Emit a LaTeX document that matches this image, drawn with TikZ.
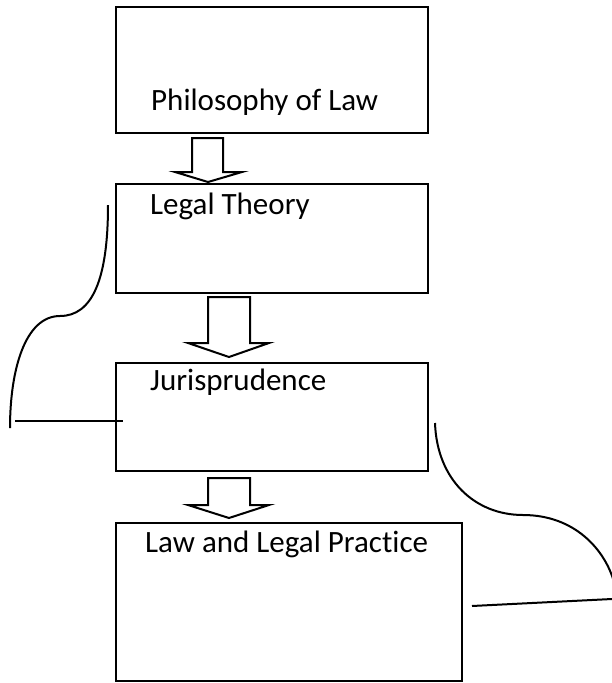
\documentclass[tikz,border=0pt]{standalone}
\usepackage{fontspec}
\setmainfont{Carlito}[Ligatures=NoCommon]
\begin{document}
\begin{tikzpicture}[x=1pt,y=-1pt,
  box/.style={draw=black, line width=2pt, fill=white, rectangle, inner sep=0pt, anchor=north west},
  caption/.style={anchor=base west, inner sep=0pt, font=\fontsize{31}{36}\selectfont, text=black},
  blockarrow/.style={draw=black, line width=2pt, fill=white, line join=miter},
  brace/.style={draw=black, line width=2pt},
  tick/.style={draw=black, line width=2pt}]
  \useasboundingbox (0,0) rectangle (612,683);

  % the four stages
  \node[box, minimum width=312pt, minimum height=126pt] (philo) at (115,6) {};
  \node[box, minimum width=312pt, minimum height=109pt] (theory) at (115,183) {};
  \node[box, minimum width=312pt, minimum height=108pt] (juris) at (115,362) {};
  \node[box, minimum width=346pt, minimum height=158pt] (practice) at (115,522) {};

  \node[caption] (philoT) at (151,110) {Philosophy of Law};
  \node[caption] (theoryT) at (150,214) {Legal Theory};
  \node[caption] (jurisT) at (150,390) {Jurisprudence};
  \node[caption] (practiceT) at (145,552) {Law and Legal Practice};

  % block arrows between the stages
  \draw[blockarrow] (192,138) -- (223,138) -- (223,172) -- (242,172) -- (208,182)
    -- (175,172) -- (192,172) -- cycle;
  \draw[blockarrow] (208,297) -- (250,297) -- (250,343) -- (269,343) -- (229,357)
    -- (188,343) -- (208,343) -- cycle;
  \draw[blockarrow] (208,478) -- (250,478) -- (250,505) -- (269,505) -- (229,518)
    -- (188,505) -- (208,505) -- cycle;

  % left brace spanning the upper stages
  \coordinate (lbTop) at (108,205);
  \coordinate (lbMid) at (60,316);
  \coordinate (lbBot) at (10,428);
  \draw[brace] (lbTop) .. controls (108,280) and (92,316) .. (lbMid)
    .. controls (25,316) and (10,370) .. (lbBot);
  \coordinate (lTickA) at (15,421);
  \draw[tick] (lTickA) -- (juris.west |- lTickA) -- ++(8,0);

  % right brace spanning the lower stages
  \coordinate (rbTop) at (435,423);
  \coordinate (rbMid) at (523,515);
  \coordinate (rbBot) at (614,582);
  \draw[brace] (rbTop) .. controls (437,480) and (475,515) .. (rbMid)
    .. controls (575,515) and (605,550) .. (rbBot);
  \coordinate (rTickB) at (612,599);
  \draw[tick] (472,606) -- (rTickB);
\end{tikzpicture}
\end{document}
